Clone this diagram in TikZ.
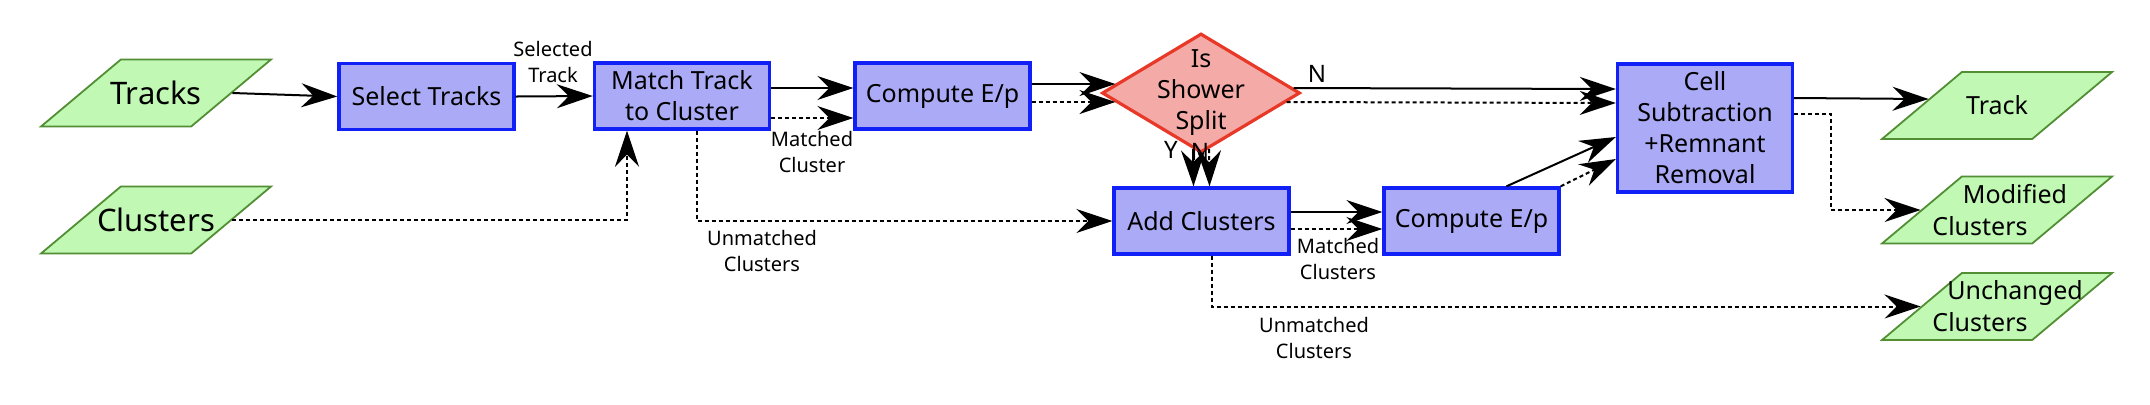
\documentclass[tikz,border=0pt]{standalone}
\usepackage{fontspec}
\setmainfont{Noto Sans}
\usepackage{xcolor}
\usetikzlibrary{shapes.geometric,arrows.meta,calc}

\definecolor{ioFill}{RGB}{192,248,180}
\definecolor{ioLine}{RGB}{82,142,52}
\definecolor{procFill}{RGB}{170,170,246}
\definecolor{procLine}{RGB}{16,32,246}
\definecolor{decFill}{RGB}{244,170,166}
\definecolor{decLine}{RGB}{232,56,40}

\tikzset{
  proc/.style={draw=procLine, fill=procFill, line width=1.7pt, minimum width=87.5pt, minimum height=33pt,
    inner sep=0pt, align=center, font=\fontsize{12.5}{15.5}\selectfont},
  iobox/.style={trapezium, trapezium left angle=40, trapezium right angle=140, trapezium stretches body,
    draw=ioLine, fill=ioFill, line width=0.9pt, minimum width=115pt, minimum height=33.5pt,
    inner xsep=0pt, inner ysep=16.75pt},
  iotext/.style={align=center, inner sep=0pt, font=\fontsize{12.5}{16}\selectfont},
  iobig/.style={iotext, font=\fontsize{15.5}{18}\selectfont},
  decision/.style={diamond, aspect=1.66, draw=decLine, fill=decFill, line width=1.6pt, minimum width=99pt,
    minimum height=59.5pt, inner sep=-20pt, align=center, font=\fontsize{12.5}{15.5}\selectfont},
  flow/.style={line width=1pt, -{Stealth[length=18pt,width=12pt,inset=6pt]}},
  dotflow/.style={flow, dash pattern=on 2pt off 1.5pt},
  lbl/.style={inner sep=0pt, align=center, font=\fontsize{10}{13}\selectfont},
  yn/.style={inner sep=0pt, font=\fontsize{12}{14}\selectfont}
}

\begin{document}
\begin{tikzpicture}[x=0.5pt,y=0.5pt,yscale=-1,xscale=1]
\useasboundingbox (0,0) rectangle (2150,404);

% Inputs
\node[iobox, label={[iobig]center:Tracks}] (tracks) at (156,93) {};
\node[iobox, label={[iobig]center:Clusters}] (clusters) at (156,220) {};

% Process boxes
\node[proc] (seltrk) at (426.5,96.5) {Select Tracks};
\node[proc] (match) at (682,96) {Match Track\\to Cluster};
\node[proc] (ep1) at (942.5,96) {Compute E/p};
\node[decision] (split) at (1201,93) {Is\\Shower\\Split};
\node[proc, minimum height=64pt] (cellsub) at (1705,128) {Cell\\Subtraction\\+Remnant\\Removal};
\node[proc] (add) at (1201.5,221) {Add Clusters};
\node[proc] (ep2) at (1471.5,221) {Compute E/p};

% Outputs
\node[iobox, label={[iotext]center:Track}] (trkout) at (1997,105.5) {};
\node[iobox, label={[iotext]center:{Modified\hspace*{-18pt}\\\hspace*{-17pt}Clusters}}] (modcl) at (1997,210) {};
\node[iobox, label={[iotext]center:{Unchanged\hspace*{-18pt}\\\hspace*{-17pt}Clusters}}] (unchcl) at (1997,306.5) {};

% Text Node
\node[lbl] (lblsel) at (553,62) {Selected\\Track};
\node[lbl] (lblmat) at (812,152) {Matched\\Cluster};
\node[lbl] (lblunm) at (762,251) {Unmatched\\Clusters};
\node[lbl] (lblmat2) at (1338,259) {Matched\\Clusters};
\node[lbl] (lblunm2) at (1314,338) {Unmatched\\Clusters};
\node[yn] (lblN) at (1317,74) {N};
\node[yn] (lblY) at (1171,150) {Y};
\node[yn] (lblN2) at (1200,152) {N};

%Straight Lines
\draw[flow] (tracks.east) -- (seltrk.west);
\draw[flow] (seltrk.east) -- (match.west);
\draw[dotflow] (clusters.east) -| ($(match.south)+(-55,0)$);
\draw[flow] ($(match.east)+(0,-8)$) -- ($(ep1.west)+(0,-8)$);
\draw[dotflow] ($(match.east)+(0,22)$) -- ($(ep1.west)+(0,22)$);
\draw[dotflow] ($(match.south)+(15,0)$) |- (add.west);
\draw[flow] ($(ep1.east)+(0,-12)$) -- ($(split.west)+(15,-9)$);
\draw[dotflow] ($(ep1.east)+(0,6)$) -- ($(split.west)+(15,9)$);
\draw[flow] ($(split.east)+(-8,-5)$) -- ($(cellsub.west)+(0,-39)$);
\draw[dotflow] ($(split.east)+(-15,9)$) -- ($(cellsub.west)+(0,-25)$);
\draw[flow] ($(split.south)+(-8,-5)$) -- ($(add.north)+(-8,0)$);
\draw[dotflow] ($(split.south)+(8,-5)$) -- ($(add.north)+(8,0)$);
\draw[flow] ($(add.east)+(0,-9)$) -- ($(ep2.west)+(0,-9)$);
\draw[dotflow] ($(add.east)+(0,8)$) -- ($(ep2.west)+(0,8)$);
\draw[flow] ($(ep2.north)+(35,0)$) -- ($(cellsub.west)+(0,9)$);
\draw[dotflow] (ep2.north east) -- ($(cellsub.west)+(0,31)$);
\draw[dotflow] ($(add.south)+(10,0)$) |- (unchcl.west);
\draw[flow] ($(cellsub.east)+(0,-30)$) -- ($(trkout.west)+(8,-6.5)$);
\draw[dotflow] ($(cellsub.east)+(0,-14)$) -- ++(37,0) |- (modcl.west);

\end{tikzpicture}
\end{document}
